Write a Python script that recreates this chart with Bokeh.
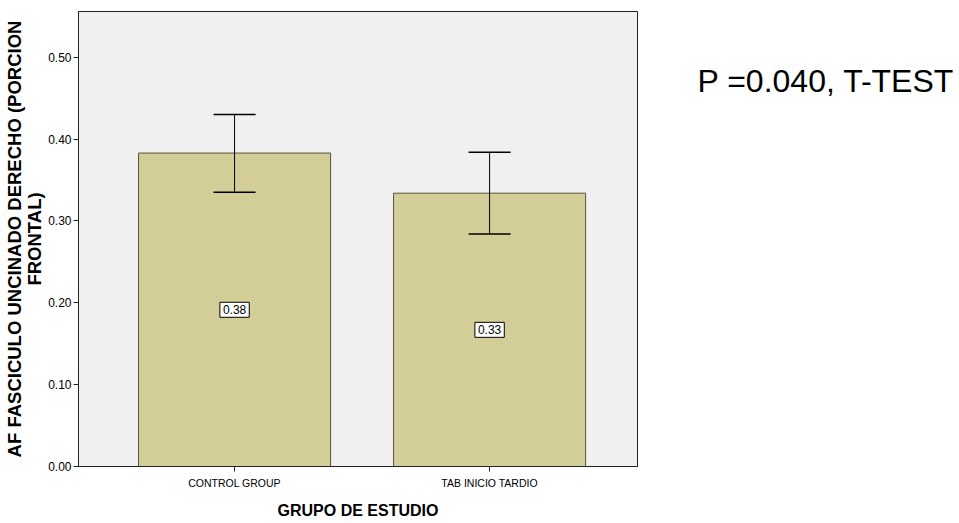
from bokeh.plotting import figure
from bokeh.layouts import row
from bokeh.models import Whisker, Label, ColumnDataSource, FixedTicker, NumeralTickFormatter, Range1d
from bokeh.core.properties import value
from bokeh.embed import file_html
from bokeh.resources import INLINE

groups = ["CONTROL GROUP", "TAB INICIO TARDIO"]
means = [0.383, 0.334]
upper = [0.430, 0.384]
lower = [0.335, 0.284]
value_labels = ["0.38", "0.33"]
y_ticks = [0.0, 0.1, 0.2, 0.3, 0.4, 0.5]
annotation = ["P =0.040, T-TEST"]

xpos = [1, 2]
src = ColumnDataSource(dict(x=xpos, top=means, upper=upper, lower=lower))

H = 523
p = figure(width=660, height=H, output_backend="svg", toolbar_location=None,
           x_range=Range1d(0.388, 2.58), y_range=Range1d(0, 0.556),
           min_border_left=78, min_border_right=23, min_border_top=11, min_border_bottom=H - 466)

p.background_fill_color = "#f0f0f0"
p.border_fill_color = "white"
p.outline_line_color = "#222222"
p.outline_line_width = 1
p.grid.visible = False

p.vbar(x="x", top="top", bottom=0, width=0.753, source=src,
       fill_color="#d3ce98", line_color="#55533a", line_width=1)

w = Whisker(base="x", upper="upper", lower="lower", source=src,
            line_color="black", line_width=1, level="overlay")
w.upper_head.size = 42
w.lower_head.size = 42
w.upper_head.line_color = "black"
w.lower_head.line_color = "black"
w.upper_head.line_width = 1.5
w.lower_head.line_width = 1.5
p.add_layout(w)

for xv, m, t in zip(xpos, means, value_labels):
    p.add_layout(Label(x=xv, y=m / 2, text=t, text_align="center", text_baseline="middle",
                       text_font="Liberation Sans", text_font_size="12px", text_color="black",
                       background_fill_color="white", border_line_color="black",
                       border_line_width=1, padding=3))

p.xaxis.ticker = FixedTicker(ticks=xpos)
p.xaxis.major_label_overrides = {1: groups[0], 2: groups[1]}
p.xaxis.axis_label = "GRUPO DE ESTUDIO"
p.yaxis.ticker = FixedTicker(ticks=y_ticks)
p.yaxis.formatter = NumeralTickFormatter(format="0.00")
p.yaxis.axis_label = "AF FASCICULO UNCINADO DERECHO (PORCION\nFRONTAL)"

for ax in (p.xaxis, p.yaxis):
    ax.axis_line_color = "#222222"
    ax.major_tick_line_color = "#222222"
    ax.major_tick_in = 0
    ax.major_tick_out = 5
    ax.minor_tick_line_color = None
    ax.major_label_text_font = "Liberation Sans"
    ax.major_label_text_color = "black"
    ax.axis_label_text_font = "Liberation Sans"
    ax.axis_label_text_font_style = "bold"
    ax.axis_label_text_color = "black"

p.xaxis.major_label_text_font_size = "10.5px"
p.yaxis.major_label_text_font_size = "12px"
p.xaxis.axis_label_text_font_size = "16px"
p.yaxis.axis_label_text_font_size = "18.5px"
p.yaxis.axis_label_text_line_height = 0.95
p.xaxis.major_label_standoff = 5
p.yaxis.major_label_standoff = 2
p.xaxis.axis_label_standoff = 10
p.yaxis.axis_label_standoff = 0

# right-hand annotation panel
q = figure(width=299, height=H, output_backend="svg", toolbar_location=None,
           x_range=Range1d(0, 299), y_range=Range1d(H, 0),
           min_border_left=0, min_border_right=0, min_border_top=0, min_border_bottom=0)
q.axis.visible = False
q.grid.visible = False
q.outline_line_color = None
q.background_fill_color = "white"
q.border_fill_color = "white"
q.text(x=[37], y=[80], text=annotation, text_align="left", text_baseline="middle",
       text_font=value("Liberation Sans"), text_font_size="32px", text_color="black")

layout = row(p, q, spacing=0)
open("out.html", "w").write(file_html(layout, INLINE))
